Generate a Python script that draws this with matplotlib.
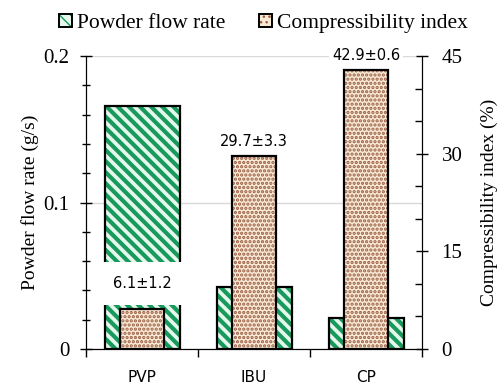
import numpy as np
import matplotlib.pyplot as plt
from matplotlib.patches import Patch

categories = ["PVP", "IBU", "CP"]
flow_rate = [0.166, 0.042, 0.021]          # g/s
compress_idx = [6.1, 29.7, 42.9]            # %
compress_err = [1.2, 3.3, 0.6]

GREEN = "#189a5c"
GREEN_BG = "#e6f7ee"
BROWN = "#9a5e44"
BEIGE = "#f9ead6"
SERIF = "Liberation Serif"
STRIPES = "\\\\\\"
DOTS = "...."


def hatched_bars(ax, x, h, width, face, hcolor, hatch, hlw, zorder):
    with plt.rc_context({"hatch.linewidth": hlw}):
        ax.bar(x, h, width=width, color=face, edgecolor=hcolor, linewidth=0,
               hatch=hatch, zorder=zorder)
    ax.bar(x, h, width=width, fill=False, edgecolor="black", linewidth=1.6,
           zorder=zorder + 0.1)


fig = plt.figure(figsize=(5.01, 3.85), dpi=100)
ax = fig.add_axes([0.1717, 0.0935, 0.6707, 0.761])
x = np.arange(len(categories))

ax.grid(axis="y", color="#d9d9d9", linewidth=1, zorder=0)
ax.set_axisbelow(True)
hatched_bars(ax, x, flow_rate, 0.67, GREEN_BG, GREEN, STRIPES, 3.0, 2)
ax.set_ylim(0, 0.2)
ax.set_xlim(-0.5, 2.5)
ax.set_yticks([0, 0.1, 0.2], ["0", "0.1", "0.2"], fontfamily=SERIF, fontsize=15)
ax.set_yticks(np.arange(0, 0.201, 0.02), minor=True)
ax.set_ylabel("Powder flow rate (g/s)", fontfamily=SERIF, fontsize=14, labelpad=3)
ax.tick_params(axis="y", which="major", direction="inout", length=8, width=1, pad=8)
ax.tick_params(axis="y", which="minor", direction="inout", length=6, width=1)

ax.set_xticks([-0.5, 0.5, 1.5, 2.5])
ax.set_xticklabels([])
ax.set_xticks(x, minor=True)
ax.set_xticklabels(categories, minor=True, fontfamily="DejaVu Sans", fontsize=11)
ax.tick_params(axis="x", which="major", direction="out", length=6, width=1)
ax.tick_params(axis="x", which="minor", length=0, pad=15)
ax.spines["top"].set_visible(False)

ax2 = ax.twinx()
hatched_bars(ax2, x, compress_idx, 0.4, BEIGE, BROWN, DOTS, 1.6, 3)
ax2.set_ylim(0, 45)
ax2.set_yticks([0, 15, 30, 45], ["0", "15", "30", "45"], fontfamily=SERIF, fontsize=15)
ax2.set_yticks(np.arange(0, 46, 5), minor=True)
ax2.set_ylabel("Compressibility index (%)", fontfamily=SERIF, fontsize=14, labelpad=13)
ax2.tick_params(axis="y", which="major", direction="inout", length=8, width=1, pad=10)
ax2.tick_params(axis="y", which="minor", direction="in", length=5, width=1)
ax2.spines["top"].set_visible(False)

# the PVP label sits inside the wide flow-rate bar, on a white box
label_offset = [13, 5, 5]
label_pad = [10, 2, 2]
for xi, v, e, off, pad in zip(x, compress_idx, compress_err, label_offset, label_pad):
    ax2.annotate(f"{v}±{e}", (xi, v), xytext=(0, off), textcoords="offset points",
                 ha="center", va="bottom", fontsize=10.5, fontfamily="DejaVu Sans",
                 bbox=dict(facecolor="white", edgecolor="none", pad=pad), zorder=5)

with plt.rc_context({"hatch.linewidth": 2.5}):
    p1 = Patch(facecolor=GREEN_BG, edgecolor=GREEN, hatch="\\\\\\", linewidth=0)
with plt.rc_context({"hatch.linewidth": 1.2}):
    p2 = Patch(facecolor=BEIGE, edgecolor=BROWN, hatch="...", linewidth=0)
h1 = (p1, Patch(fill=False, edgecolor="black", linewidth=1.4))
h2 = (p2, Patch(fill=False, edgecolor="black", linewidth=1.4))
fig.legend([h1, h2], ["Powder flow rate", "Compressibility index"],
           loc="upper left", bbox_to_anchor=(0.08, 1.015), ncol=2, frameon=False,
           prop={"family": SERIF, "size": 15.5}, handlelength=0.6, handleheight=0.6,
           handletextpad=0.2, columnspacing=1.6)

fig.savefig("out.png", dpi=100)
